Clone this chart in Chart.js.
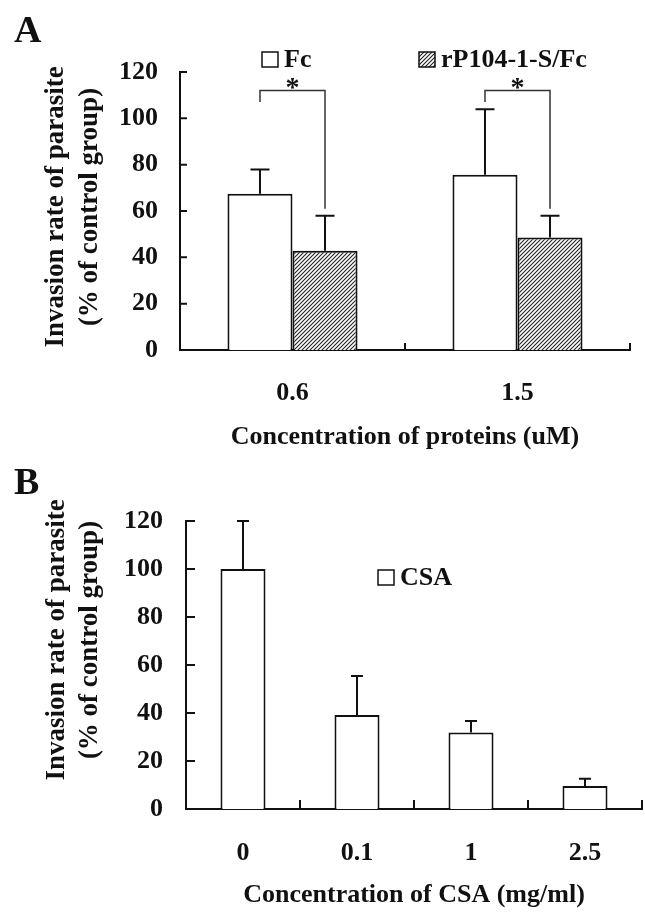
<!DOCTYPE html>
<html>
<head>
<meta charset="utf-8">
<script src="https://cdn.jsdelivr.net/npm/chart.js@4.4.1/dist/chart.umd.min.js"></script>
<style>
  body { margin: 0; background: #fff; }
  canvas { display: block; }
</style>
</head>
<body>
<canvas id="chartA" width="645" height="460"></canvas>
<canvas id="chartB" width="645" height="452"></canvas>
<script>
// panel A data: invasion rate with Fc / rP104-1-S/Fc
var doseLabels = ['0.6', '1.5'];
var fcMean = [67.5, 75.7];
var fcErr = [10.4, 28.2];
var rpMean = [42.8, 48.6];
var rpErr = [15.2, 9.4];
// significance brackets (in % units)
var bracketTop = [112, 112];
var bracketLeftEnd = [107, 107];
var bracketRightEnd = [61, 61];
// panel B data: CSA concentrations
var csaLabels = ['0', '0.1', '1', '2.5'];
var csaMean = [100, 39.2, 31.9, 9.6];
var csaErr = [20, 16.2, 4.8, 3.0];
var yTitle = ['Invasion rate of parasite', '(% of control group)'];

var serif = "'Times New Roman', 'Liberation Serif', serif";
var ink = '#111';

// diagonal hatch for rP104-1-S/Fc bars
function makeHatch(ctx) {
  var c = document.createElement('canvas');
  c.width = 4; c.height = 4;
  var g = c.getContext('2d');
  g.fillStyle = '#fff';
  g.fillRect(0, 0, 4, 4);
  g.strokeStyle = '#222';
  g.lineWidth = 1.1;
  g.beginPath();
  g.moveTo(0, 4); g.lineTo(4, 0);
  g.moveTo(-1, 1); g.lineTo(1, -1);
  g.moveTo(3, 5); g.lineTo(5, 3);
  g.stroke();
  return ctx.createPattern(c, 'repeat');
}

// error bars (upper half only) from dataset.errors
var errorBars = {
  id: 'errorBars',
  afterDatasetsDraw: function(chart, args, opts) {
    var ctx = chart.ctx, y = chart.scales.y;
    ctx.save();
    ctx.strokeStyle = ink;
    ctx.lineWidth = 2;
    chart.data.datasets.forEach(function(ds, di) {
      var meta = chart.getDatasetMeta(di);
      meta.data.forEach(function(bar, i) {
        var top = y.getPixelForValue(ds.data[i] + ds.errors[i]);
        ctx.beginPath();
        ctx.moveTo(bar.x, bar.y);
        ctx.lineTo(bar.x, top);
        ctx.moveTo(bar.x - opts.cap / 2, top);
        ctx.lineTo(bar.x + opts.cap / 2, top);
        ctx.stroke();
      });
    });
    ctx.restore();
  }
};

// inward tick marks on both axes
var innerTicks = {
  id: 'innerTicks',
  afterDraw: function(chart, args, opts) {
    var ctx = chart.ctx, x = chart.scales.x, y = chart.scales.y;
    ctx.save();
    ctx.strokeStyle = ink;
    ctx.lineWidth = 2;
    ctx.beginPath();
    y.ticks.forEach(function(t) {
      var py = y.getPixelForValue(t.value);
      ctx.moveTo(x.left, py);
      ctx.lineTo(x.left + opts.len, py);
    });
    var n = chart.data.labels.length;
    for (var i = 1; i <= n; i++) {
      var px = x.left + x.width * i / n;
      ctx.moveTo(px, y.bottom);
      ctx.lineTo(px, y.bottom - opts.len);
    }
    ctx.stroke();
    ctx.restore();
  }
};

// significance brackets between the two bars of each group
var brackets = {
  id: 'brackets',
  afterDatasetsDraw: function(chart, args, opts) {
    if (!opts.top) return;
    var ctx = chart.ctx, y = chart.scales.y;
    var a = chart.getDatasetMeta(0).data, b = chart.getDatasetMeta(1).data;
    ctx.save();
    ctx.strokeStyle = '#333';
    ctx.lineWidth = 1.5;
    ctx.fillStyle = ink;
    ctx.font = 'bold 28px ' + serif;
    ctx.textAlign = 'center';
    ctx.textBaseline = 'middle';
    a.forEach(function(bar, i) {
      var yt = y.getPixelForValue(opts.top[i]);
      ctx.beginPath();
      ctx.moveTo(bar.x, y.getPixelForValue(opts.left[i]));
      ctx.lineTo(bar.x, yt);
      ctx.lineTo(b[i].x, yt);
      ctx.lineTo(b[i].x, y.getPixelForValue(opts.right[i]));
      ctx.stroke();
      ctx.fillText('*', (bar.x + b[i].x) / 2, yt - 2);
    });
    ctx.restore();
  }
};

// rotated two-line y title, centred on the y scale plus a shift
var yTitlePlugin = {
  id: 'yTitle',
  afterDraw: function(chart, args, opts) {
    var ctx = chart.ctx, y = chart.scales.y;
    var cy = (y.top + y.bottom) / 2 + opts.shift;
    ctx.save();
    ctx.fillStyle = ink;
    ctx.font = 'bold 27px ' + serif;
    ctx.textAlign = 'center';
    ctx.textBaseline = 'middle';
    opts.text.forEach(function(line, i) {
      ctx.save();
      ctx.translate(opts.x + i * opts.gap, cy);
      ctx.rotate(-Math.PI / 2);
      ctx.fillText(line, 0, 0, y.bottom - y.top + 6);
      ctx.restore();
    });
    ctx.restore();
  }
};

// panel letter and legend boxes
var panelDeco = {
  id: 'panelDeco',
  afterDraw: function(chart, args, opts) {
    var ctx = chart.ctx;
    ctx.save();
    ctx.fillStyle = ink;
    ctx.font = 'bold 38px ' + serif;
    ctx.textBaseline = 'alphabetic';
    ctx.fillText(opts.letter, opts.letterAt[0], opts.letterAt[1]);
    ctx.font = 'bold 26px ' + serif;
    ctx.textBaseline = 'middle';
    chart.data.datasets.forEach(function(ds, i) {
      var p = opts.items[i];
      ctx.fillStyle = ds.backgroundColor;
      ctx.fillRect(p[0], p[1], 16, 15);
      ctx.strokeStyle = ink;
      ctx.lineWidth = 1.5;
      ctx.strokeRect(p[0], p[1], 16, 15);
      ctx.fillStyle = ink;
      ctx.fillText(ds.label, p[0] + 22, p[1] + 8);
    });
    ctx.restore();
  }
};

function axes(yWidth, yPad, xHeight, xPad, xTitle, xTitlePad) {
  return {
    x: {
      grid: { display: false, drawTicks: false },
      border: { display: true, color: ink, width: 2 },
      ticks: { color: ink, padding: xPad, maxRotation: 0, autoSkip: false,
               font: { family: serif, size: 26, weight: 'bold' } },
      title: { display: true, text: xTitle, color: ink,
               padding: { top: 0, bottom: xTitlePad },
               font: { family: serif, size: 26, weight: 'bold', lineHeight: 1.2 } },
      afterFit: function(s) { s.height = xHeight; }
    },
    y: {
      min: 0, max: 120,
      grid: { display: false, drawTicks: false },
      border: { display: true, color: ink, width: 2 },
      ticks: { stepSize: 20, color: ink, padding: yPad,
               font: { family: serif, size: 26, weight: 'bold' } },
      afterFit: function(s) { s.width = yWidth; }
    }
  };
}

var ctxA = document.getElementById('chartA').getContext('2d');
var hatch = makeHatch(ctxA);

var chartA = new Chart(ctxA, {
  type: 'bar',
  data: {
    labels: doseLabels,
    datasets: [{
      label: 'Fc',
      data: fcMean,
      errors: fcErr,
      backgroundColor: '#fff',
      borderColor: ink,
      borderWidth: 2
    }, {
      label: 'rP104-1-S/Fc',
      data: rpMean,
      errors: rpErr,
      backgroundColor: hatch,
      borderColor: ink,
      borderWidth: 2
    }]
  },
  options: {
    responsive: false,
    animation: false,
    categoryPercentage: 0.578,
    barPercentage: 1,
    layout: { padding: { top: 72, right: 15, bottom: 0, left: 0 } },
    scales: axes(180, 22, 110, 28, 'Concentration of proteins (uM)', 7),
    plugins: {
      legend: { display: false },
      tooltip: { enabled: false },
      errorBars: { cap: 19 },
      innerTicks: { len: 7 },
      brackets: { top: bracketTop, left: bracketLeftEnd, right: bracketRightEnd },
      yTitle: { text: yTitle, x: 56, gap: 34, shift: -4 },
      panelDeco: { letter: 'A', letterAt: [14, 42], items: [[262, 52], [419, 52]] }
    }
  },
  plugins: [errorBars, innerTicks, brackets, yTitlePlugin, panelDeco]
});

var chartB = new Chart(document.getElementById('chartB').getContext('2d'), {
  type: 'bar',
  data: {
    labels: csaLabels,
    datasets: [{
      label: 'CSA',
      data: csaMean,
      errors: csaErr,
      backgroundColor: '#fff',
      borderColor: ink,
      borderWidth: 2
    }]
  },
  options: {
    responsive: false,
    animation: false,
    categoryPercentage: 0.395,
    barPercentage: 1,
    layout: { padding: { top: 61, right: 3, bottom: 0, left: 0 } },
    scales: axes(186, 23, 103, 29, 'Concentration of CSA (mg/ml)', 1),
    plugins: {
      legend: { display: false },
      tooltip: { enabled: false },
      errorBars: { cap: 12 },
      innerTicks: { len: 9 },
      brackets: {},
      yTitle: { text: yTitle, x: 57, gap: 33, shift: -25 },
      panelDeco: { letter: 'B', letterAt: [14, 34], items: [[378, 110]] }
    }
  },
  plugins: [errorBars, innerTicks, brackets, yTitlePlugin, panelDeco]
});
</script>
</body>
</html>
